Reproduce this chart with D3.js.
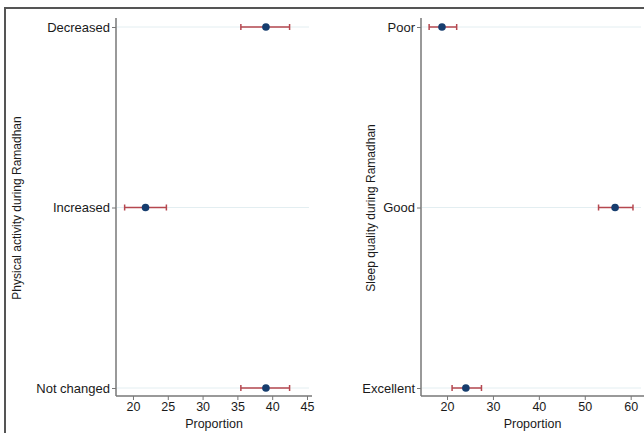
<!DOCTYPE html>
<html>
<head>
<meta charset="utf-8">
<script src="https://cdn.jsdelivr.net/npm/d3@7"></script>
<style>
  body { margin: 0; background: #fff; }
  svg { display: block; font-family: "Liberation Sans", Arial, sans-serif; }
</style>
</head>
<body>
<svg id="chart" width="644" height="433"></svg>
<script>
// left panel: physical activity
const activityCats = ['Decreased', 'Increased', 'Not changed'];
const activityEst = [39.1, 21.8, 39.1];
const activityLo = [35.5, 18.8, 35.5];
const activityHi = [42.5, 24.8, 42.5];
const activityTicks = [20, 25, 30, 35, 40, 45];

// right panel: sleep quality
const sleepCats = ['Poor', 'Good', 'Excellent'];
const sleepEst = [18.9, 56.6, 24.1];
const sleepLo = [16.1, 53.0, 21.1];
const sleepHi = [22.1, 60.5, 27.5];
const sleepTicks = [20, 30, 40, 50, 60];

const svg = d3.select('#chart');

// outer frame (top + left edges visible)
svg.append('path')
  .attr('d', 'M5,433 V8 H644')
  .attr('fill', 'none')
  .attr('stroke', '#555')
  .attr('stroke-width', 2);

function panel(opts) {
  const { cats, est, lo, hi, ticks, x0, x1, dom, title, titleX } = opts;
  const yTop = 27, yBot = 388, axisY = 396;
  const x = d3.scaleLinear().domain(dom).range([x0, x1]);
  const y = d3.scalePoint().domain(cats).range([yTop, yBot]);
  const g = svg.append('g');

  // faint gridlines at each category
  g.selectAll('line.grid').data(cats).join('line')
    .attr('class', 'grid')
    .attr('x1', x0 + 1).attr('x2', x1 - 3)
    .attr('y1', d => y(d)).attr('y2', d => y(d))
    .attr('stroke', '#e3eef1').attr('stroke-width', 1);

  // y axis
  const ya = g.append('g').attr('transform', `translate(${x0},0)`)
    .call(d3.axisLeft(y).tickSize(4).tickPadding(2));
  ya.select('.domain').attr('d', `M0,18 V${axisY}`).attr('stroke', '#777').attr('stroke-width', 1.5);
  ya.selectAll('.tick line').attr('stroke', '#777');
  ya.selectAll('.tick text').attr('font-size', 13).attr('fill', '#1a1a1a')
    .attr('font-family', '"Liberation Sans", Arial, sans-serif');

  // x axis
  const xa = g.append('g').attr('transform', `translate(0,${axisY})`)
    .call(d3.axisBottom(x).tickValues(ticks).tickSize(4).tickPadding(2));
  xa.select('.domain').attr('d', `M${x0},0 H${x1}`).attr('stroke', '#777').attr('stroke-width', 1.5);
  xa.selectAll('.tick line').attr('stroke', '#777');
  xa.selectAll('.tick text').attr('font-size', 12.5).attr('fill', '#1a1a1a')
    .attr('font-family', '"Liberation Sans", Arial, sans-serif');

  // x title
  g.append('text')
    .attr('x', (x0 + x1) / 2).attr('y', 428)
    .attr('text-anchor', 'middle').attr('font-size', 12.5).attr('fill', '#1a1a1a')
    .text('Proportion');

  // y title
  g.append('text')
    .attr('transform', `translate(${titleX},208) rotate(-90)`)
    .attr('text-anchor', 'middle').attr('font-size', 12).attr('fill', '#1a1a1a')
    .text(title);

  const rows = cats.map((c, i) => ({ c, e: est[i], l: lo[i], h: hi[i] }));
  const red = '#b5474f';

  g.selectAll('line.ci').data(rows).join('line')
    .attr('class', 'ci')
    .attr('x1', d => x(d.l)).attr('x2', d => x(d.h))
    .attr('y1', d => y(d.c)).attr('y2', d => y(d.c))
    .attr('stroke', red).attr('stroke-width', 1.5);
  g.selectAll('line.capl').data(rows).join('line')
    .attr('class', 'capl')
    .attr('x1', d => x(d.l)).attr('x2', d => x(d.l))
    .attr('y1', d => y(d.c) - 3).attr('y2', d => y(d.c) + 3)
    .attr('stroke', red).attr('stroke-width', 1.5);
  g.selectAll('line.caph').data(rows).join('line')
    .attr('class', 'caph')
    .attr('x1', d => x(d.h)).attr('x2', d => x(d.h))
    .attr('y1', d => y(d.c) - 3).attr('y2', d => y(d.c) + 3)
    .attr('stroke', red).attr('stroke-width', 1.5);
  g.selectAll('circle').data(rows).join('circle')
    .attr('cx', d => x(d.e)).attr('cy', d => y(d.c))
    .attr('r', 3.8).attr('fill', '#163d6e');
}

panel({
  cats: activityCats, est: activityEst, lo: activityLo, hi: activityHi,
  ticks: activityTicks, x0: 116, x1: 312, dom: [17.56, 45.72],
  title: 'Physical activity during Ramadhan', titleX: 21
});

panel({
  cats: sleepCats, est: sleepEst, lo: sleepLo, hi: sleepHi,
  ticks: sleepTicks, x0: 421, x1: 644, dom: [14.33, 62.9],
  title: 'Sleep quality during Ramadhan', titleX: 375
});
</script>
</body>
</html>
